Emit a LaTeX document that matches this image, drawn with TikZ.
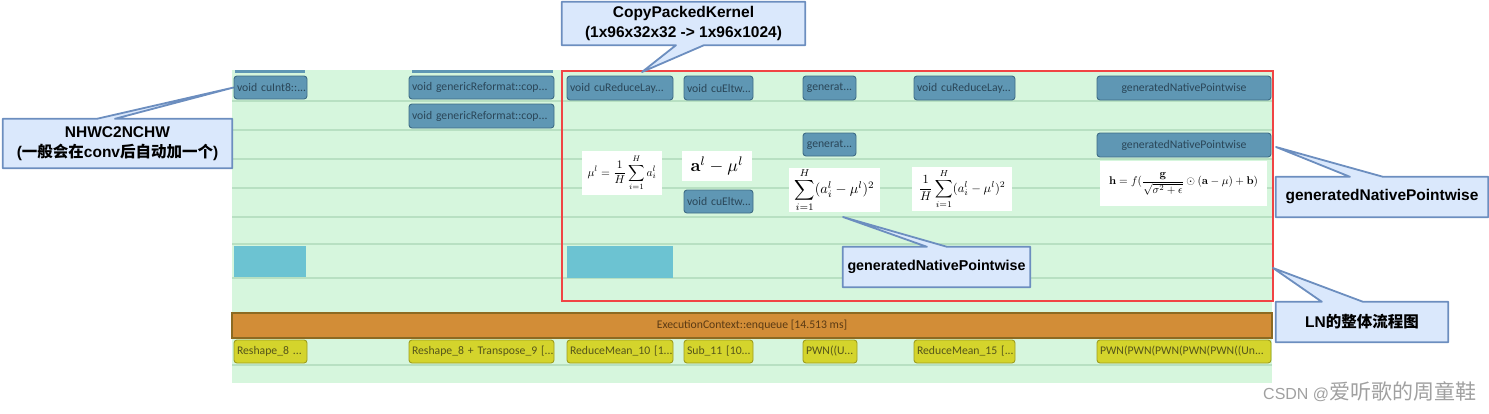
\documentclass[tikz,border=0pt]{standalone}
\usepackage[no-math]{fontspec}
\usepackage{graphicx}
\usetikzlibrary{calc}
\setmainfont{Liberation Sans}
\newfontfamily\calfont{Carlito}
\newfontfamily\cjkfont{Noto Sans CJK SC}
\definecolor{bgg}{HTML}{D6F6DD}
\definecolor{gridc}{HTML}{B8E0C2}
\definecolor{tealf}{HTML}{5F97B4}
\definecolor{teald}{HTML}{3E6C85}
\definecolor{tealt}{HTML}{2A4658}
\definecolor{yelf}{HTML}{D4D42C}
\definecolor{yeld}{HTML}{9E9E1E}
\definecolor{yelt}{HTML}{55551A}
\definecolor{orf}{HTML}{D28D37}
\definecolor{ord}{HTML}{8C6A22}
\definecolor{ort}{HTML}{5A3A14}
\definecolor{cyanb}{HTML}{6CC3D2}
\definecolor{cfill}{HTML}{DAE8FC}
\definecolor{cline}{HTML}{6C8EBF}
\definecolor{redb}{HTML}{F04444}
\definecolor{wmc}{HTML}{A0A0A0}
\pgfdeclarelayer{back}
\pgfdeclarelayer{mid}
\pgfsetlayers{back,mid,main}
\tikzset{
  kbox/.style={draw=teald, fill=tealf, line width=0.9pt, rounded corners=3pt,
    font=\calfont\fontsize{11.7}{13}\selectfont, text=tealt,
    inner xsep=3pt, inner ysep=0pt, align=left},
  kboxc/.style={kbox, align=center},
  ybox/.style={draw=yeld, fill=yelf, line width=0.9pt, rounded corners=3pt,
    font=\calfont\fontsize{11.7}{13}\selectfont, text=yelt,
    inner xsep=3pt, inner ysep=0pt, align=left, minimum height=23pt},
  orbar/.style={draw=ord, fill=orf, line width=1.2pt,
    font=\calfont\fontsize{11.7}{13}\selectfont, text=ort, inner sep=0pt},
  fmbox/.style={fill=white, inner sep=0pt},
  cbox/.style={inner sep=0pt, align=center,
    font=\bfseries\fontsize{15.5}{20}\selectfont, text=black},
  cedge/.style={draw=cline, fill=cfill, line width=1.8pt, line join=round},
  gridl/.style={draw=gridc, line width=1.2pt},
}
\begin{document}
\begin{tikzpicture}[x=1pt,y=-1pt]
\useasboundingbox (0,0) rectangle (1489,413);

% ---------- background panel ----------
\begin{pgfonlayer}{back}
  \fill[bgg] (232,70) rectangle (1272,383);
  \foreach \yy in {101,130,159,188,217,244,278,365}
    \draw[gridl] (232,\yy) -- (1272,\yy);
  \fill[tealf] (235,70) rectangle (305,73);
  \fill[tealf] (412,70) rectangle (553,73);
  \fill[cyanb] (234,246) rectangle (306,277);
  \fill[cyanb] (567,246) rectangle (673,278);
  \draw[redb, line width=1.6pt] (562,71) rectangle (1273,301);
\end{pgfonlayer}

% ---------- kernel boxes ----------
\node[kbox, text width=67pt, minimum height=23pt] (k1) at (270.5,87.5) {\mbox{void cuInt8::...}};
\node[kbox, text width=139pt, minimum height=23pt] (k2) at (481.5,87.5) {\mbox{void genericReformat::cop...}};
\node[kbox, text width=139pt, minimum height=24pt] (k3) at (481.5,116) {\mbox{void genericReformat::cop...}};
\node[kbox, text width=100pt, minimum height=24pt] (k4) at (620,88) {\mbox{void cuReduceLay...}};
\node[kbox, text width=63pt, minimum height=24pt] (k5) at (718.5,88) {\mbox{void cuEltw...}};
\node[kboxc, text width=47pt, minimum height=24pt] (k6) at (829.5,88) {\mbox{generat...}};
\node[kbox, text width=95pt, minimum height=24pt] (k7) at (964.5,88) {\mbox{void cuReduceLay...}};
\node[kboxc, text width=168pt, minimum height=24pt] (k8) at (1184,88) {\mbox{generatedNativePointwise}};
\node[kboxc, text width=47pt, minimum height=23pt] (k9) at (829.5,144.5) {\mbox{generat...}};
\node[kboxc, text width=168pt, minimum height=24pt] (k10) at (1184,145) {\mbox{generatedNativePointwise}};
\node[kbox, text width=63pt, minimum height=23pt] (k11) at (718.5,201.5) {\mbox{void cuEltw...}};

% ---------- formulas ----------
\node[fmbox, minimum width=80pt, minimum height=44pt] (f1) at (622,173)
  {\resizebox{69pt}{!}{$\displaystyle \mu^l=\frac{1}{H}\sum_{i=1}^{H}a_i^l$}};
\node[fmbox, minimum width=70pt, minimum height=30pt] (f2) at (717,166)
  {\resizebox{53pt}{!}{$\mathbf{a}^l-\mu^l$}};
\node[fmbox, minimum width=91pt, minimum height=42pt] (f3) at (834.5,190)
  {\resizebox{80pt}{!}{$\displaystyle\sum_{i=1}^{H}(a_i^l-\mu^l)^2$}};
\node[fmbox, minimum width=100pt, minimum height=44pt] (f4) at (962,189)
  {\resizebox{87pt}{!}{$\displaystyle\frac{1}{H}\sum_{i=1}^{H}(a_i^l-\mu^l)^2$}};
\node[fmbox, minimum width=167pt, minimum height=45pt] (f5) at (1183.5,183.5)
  {\resizebox{149pt}{!}{$\displaystyle\mathbf{h}=f(\frac{\mathbf{g}}{\sqrt{\sigma^2+\epsilon}}\odot(\mathbf{a}-\mu)+\mathbf{b})$}};

% ---------- execution bar ----------
\node[orbar, minimum width=1040pt, minimum height=25pt] (exec) at (752,325.5) {ExecutionContext::enqueue [14.513 ms]};

% ---------- op boxes ----------
\node[ybox, text width=67pt] (y1) at (270.5,351.5) {\mbox{Reshape\_8 ...}};
\node[ybox, text width=139pt] (y2) at (481.5,351.5) {\mbox{Reshape\_8 + Transpose\_9 [...}};
\node[ybox, text width=100pt] (y3) at (620,351.5) {\mbox{ReduceMean\_10 [1...}};
\node[ybox, text width=63pt] (y4) at (718.5,351.5) {\mbox{Sub\_11 [10...}};
\node[ybox, text width=48pt] (y5) at (830,351.5) {\mbox{PWN((U...}};
\node[ybox, text width=95pt] (y6) at (964.5,351.5) {\mbox{ReduceMean\_15 [...}};
\node[ybox, text width=168pt] (y7) at (1184,351.5) {\mbox{PWN(PWN(PWN(PWN(PWN((Un...}};

% ---------- callouts ----------
\coordinate (t1) at (642,72);
\coordinate (t3) at (843,217);
\coordinate (t4) at (1276,147);
\coordinate (t5) at (1273,268);

\node[cbox, minimum width=243pt, minimum height=43pt] (c1) at (683.5,23.5)
  {CopyPackedKernel\\(1x96x32x32 -> 1x96x1024)};
\node[cbox, minimum width=229pt, minimum height=49pt] (c2) at (117.5,143.5)
  {NHWC2NCHW\\({\cjkfont 一般会在}conv{\cjkfont 后自动加一个})};
\node[cbox, minimum width=187pt, minimum height=40pt, font=\bfseries\fontsize{14.3}{18}\selectfont] (c3) at (936.5,267)
  {generatedNativePointwise};
\node[cbox, minimum width=212pt, minimum height=40pt] (c4) at (1382,197)
  {generatedNativePointwise};
\node[cbox, minimum width=172pt, minimum height=40pt] (c5) at (1362,322)
  {LN{\cjkfont 的整体流程图}};

\begin{pgfonlayer}{mid}
  \path[cedge] (c1.north west) -- (c1.north east) -- (c1.south east)
    -- ($(c1.south west)!0.584!(c1.south east)$) -- (t1)
    -- ($(c1.south west)!0.469!(c1.south east)$) -- (c1.south west) -- cycle;
  \path[cedge] (c2.north west) -- ($(c2.north west)!0.41!(c2.north east)$)
    -- (k1.west) -- ($(c2.north west)!0.489!(c2.north east)$)
    -- (c2.north east) -- (c2.south east) -- (c2.south west) -- cycle;
  \path[cedge] (c3.north west) -- ($(c3.north west)!0.449!(c3.north east)$)
    -- (t3) -- ($(c3.north west)!0.556!(c3.north east)$)
    -- (c3.north east) -- (c3.south east) -- (c3.south west) -- cycle;
  \path[cedge] (c4.north west) -- ($(c4.north west)!0.349!(c4.north east)$)
    -- (t4) -- ($(c4.north west)!0.505!(c4.north east)$)
    -- (c4.north east) -- (c4.south east) -- (c4.south west) -- cycle;
  \path[cedge] (c5.north west) -- ($(c5.north west)!0.267!(c5.north east)$)
    -- (t5) -- ($(c5.north west)!0.506!(c5.north east)$)
    -- (c5.north east) -- (c5.south east) -- (c5.south west) -- cycle;
\end{pgfonlayer}

% ---------- watermark ----------
\node[anchor=west, inner sep=0pt, text=wmc, font=\fontsize{16}{18}\selectfont] (wm) at (1263,392)
  {CSDN @{\cjkfont\fontsize{21}{22}\selectfont 爱听歌的周童鞋}};
\end{tikzpicture}
\end{document}
